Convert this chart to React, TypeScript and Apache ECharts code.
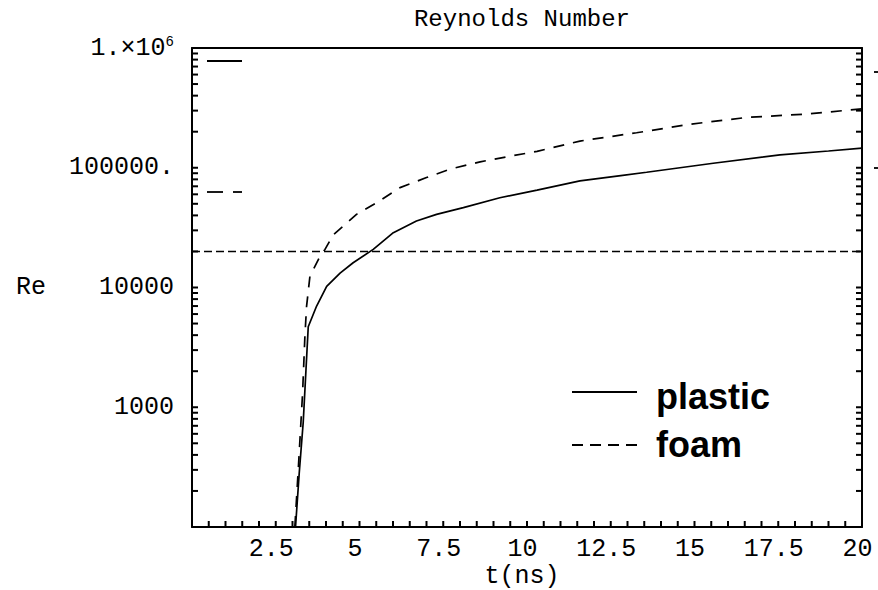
import { useEffect, useRef } from "react";
import * as echarts from "echarts";

// ---- data ----
const plasticT = [3.09, 3.2, 3.32, 3.4, 3.47, 3.72, 4.02, 4.42, 4.81, 5.41, 6.01, 6.7, 7.3, 8.1, 9.19, 10.3, 11.58, 12.8, 13.57, 15.56, 17.55, 19.0, 20];
const plasticRe = [100, 280, 750, 2000, 4700, 7000, 10200, 13200, 16100, 20800, 28700, 35900, 40800, 46400, 56200, 65000, 77600, 86000, 91700, 109000, 128000, 138000, 146000];

const foamT = [3.07, 3.18, 3.3, 3.37, 3.42, 3.52, 3.82, 3.97, 4.22, 4.91, 5.51, 6.21, 7.0, 7.7, 8.6, 9.5, 10.3, 11.58, 13.27, 14.87, 16.56, 18.35, 20];
const foamRe = [100, 330, 1300, 3900, 6950, 12400, 18200, 20800, 27600, 40800, 51000, 68200, 82800, 97300, 112000, 125000, 137000, 167000, 196000, 231000, 263000, 281000, 310000];

const criticalT = [0, 20];
const criticalRe = [20000, 20000];

const xMin = 0;
const xMax = 20;
const xInterval = 2.5;
const xTickStep = 0.5;
const yMin = 100;
const yMax = 1000000;
const yTicks = [
  100, 200, 300, 400, 500, 600, 700, 800, 900,
  1000, 2000, 3000, 4000, 5000, 6000, 7000, 8000, 9000,
  10000, 20000, 30000, 40000, 50000, 60000, 70000, 80000, 90000,
  100000, 200000, 300000, 400000, 500000, 600000, 700000, 800000, 900000, 1000000,
];
const yTickLabels: Record<number, string> = {
  2: "",
  3: "1000",
  4: "10000",
  5: "100000.",
  6: "{a|1.×10}{s|6}",
};

const titleText = "Reynolds Number";
const xName = "t(ns)";
const yName = "Re";
const legendNames = ["plastic", "foam"];

const MONO = "'Liberation Mono', 'Courier New', monospace";
const SANS = "'Liberation Sans', Arial, Helvetica, sans-serif";

export default function App() {
  const ref = useRef<HTMLDivElement | null>(null);

  useEffect(() => {
    if (!ref.current) return;
    const chart = echarts.init(ref.current, undefined, { renderer: "svg" });

    const xTickVals: number[] = [];
    for (let i = 1; i * xTickStep < xMax; i++) xTickVals.push(i * xTickStep);

    const axisLineStyle = { color: "#000", width: 2 };
    const tickStroke = { stroke: "#000", lineWidth: 2 };
    const option: any = {
      animation: false,
      backgroundColor: "#ffffff",
      grid: { left: 192, right: 16, top: 48, bottom: 63 },
      xAxis: [
        {
          type: "value",
          min: xMin,
          max: xMax,
          interval: xInterval,
          axisLine: { show: true, onZero: false, lineStyle: axisLineStyle },
          axisTick: { show: false },
          splitLine: { show: false },
          axisLabel: {
            showMinLabel: false,
            color: "#000",
            fontFamily: MONO,
            fontSize: 25,
            margin: 10,
            padding: [0, 9, 0, 0],
            formatter: (v: number) => String(v),
          },
        },
        {
          type: "value",
          position: "top",
          min: xMin,
          max: xMax,
          interval: xInterval,
          axisLine: { show: true, onZero: false, lineStyle: axisLineStyle },
          axisTick: { show: false },
          splitLine: { show: false },
          axisLabel: { show: false },
        },
      ],
      yAxis: [
        {
          type: "log",
          logBase: 10,
          min: yMin,
          max: yMax,
          position: "left",
          axisLine: { show: true, onZero: false, lineStyle: axisLineStyle },
          axisTick: { show: false },
          splitLine: { show: false },
          axisLabel: {
            color: "#000",
            fontFamily: MONO,
            fontSize: 25,
            margin: 18,
            formatter: (v: number) => {
              const k = Math.round(Math.log10(v));
              return yTickLabels[k] ?? "";
            },
            rich: {
              a: { fontFamily: MONO, fontSize: 25, color: "#000" },
              s: { fontFamily: MONO, fontSize: 14, color: "#000", verticalAlign: "top", padding: [0, 0, 12, 0] },
            },
          },
        },
        {
          type: "log",
          logBase: 10,
          min: yMin,
          max: yMax,
          position: "right",
          axisLine: { show: true, onZero: false, lineStyle: axisLineStyle },
          axisTick: { show: false },
          splitLine: { show: false },
          axisLabel: { show: false },
        },
      ],
      series: [
        {
          name: "yTicks",
          type: "custom",
          clip: false,
          z: 10,
          data: yTicks.map((v) => [xMin, v]),
          renderItem: (params: any, api: any) => {
            const v = api.value(1);
            const pl = api.coord([xMin, v]);
            const pr = api.coord([xMax, v]);
            return {
              type: "group",
              children: [
                { type: "line", shape: { x1: pl[0], y1: pl[1], x2: pl[0] + 6, y2: pl[1] }, style: tickStroke },
                { type: "line", shape: { x1: pr[0] - 6, y1: pr[1], x2: pr[0], y2: pr[1] }, style: tickStroke },
              ],
            };
          },
        },
        {
          name: "xTicks",
          type: "custom",
          clip: false,
          z: 10,
          data: xTickVals.map((t) => [t, yMin]),
          renderItem: (params: any, api: any) => {
            const p = api.coord([api.value(0), yMin]);
            return { type: "line", shape: { x1: p[0], y1: p[1], x2: p[0], y2: p[1] - 6 }, style: tickStroke };
          },
        },
        {
          name: "critical",
          type: "line",
          data: criticalT.map((t, i) => [t, criticalRe[i]]),
          symbol: "none",
          lineStyle: { color: "#000", width: 1.5, type: [8, 4] },
        },
        {
          name: legendNames[0],
          type: "line",
          data: plasticT.map((t, i) => [t, plasticRe[i]]),
          symbol: "none",
          lineStyle: { color: "#000", width: 1.7 },
        },
        {
          name: legendNames[1],
          type: "line",
          data: foamT.map((t, i) => [t, foamRe[i]]),
          symbol: "none",
          lineStyle: { color: "#000", width: 1.7, type: [11, 9] },
        },
      ],
      graphic: [
        {
          type: "text",
          style: {
            x: 522, y: 19, text: titleText, fill: "#000",
            font: `24px ${MONO}`, align: "center", verticalAlign: "middle",
          },
        },
        {
          type: "text",
          style: { x: 522, y: 576, text: xName, fill: "#000", font: `25px ${MONO}`, align: "center", verticalAlign: "middle" },
        },
        {
          type: "text",
          style: { x: 16, y: 287, text: yName, fill: "#000", font: `25px ${MONO}`, align: "left", verticalAlign: "middle" },
        },
        // legend
        { type: "line", shape: { x1: 572, y1: 392, x2: 637, y2: 392 }, style: { stroke: "#000", lineWidth: 1.8 } },
        { type: "line", shape: { x1: 572, y1: 445, x2: 637, y2: 445 }, style: { stroke: "#000", lineWidth: 1.8, lineDash: [11, 7] } },
        {
          type: "text",
          style: { x: 656, y: 396, text: legendNames[0], fill: "#000", font: `bold 36px ${SANS}`, align: "left", verticalAlign: "middle" },
        },
        {
          type: "text",
          style: { x: 656, y: 444, text: legendNames[1], fill: "#000", font: `bold 36px ${SANS}`, align: "left", verticalAlign: "middle" },
        },
        // small stray marks seen in the reference
        { type: "line", shape: { x1: 207, y1: 61, x2: 242, y2: 61 }, style: { stroke: "#000", lineWidth: 1.8 } },
        { type: "line", shape: { x1: 207, y1: 192, x2: 223, y2: 192 }, style: { stroke: "#000", lineWidth: 1.8 } },
        { type: "line", shape: { x1: 233, y1: 192, x2: 242, y2: 192 }, style: { stroke: "#000", lineWidth: 1.8 } },
        { type: "line", shape: { x1: 874, y1: 72, x2: 879, y2: 72 }, style: { stroke: "#000", lineWidth: 1.8 } },
        { type: "line", shape: { x1: 874, y1: 168, x2: 879, y2: 168 }, style: { stroke: "#000", lineWidth: 1.8 } },
      ],
    };

    chart.setOption(option);
    return () => {
      chart.dispose();
    };
  }, []);

  return (
    <div
      ref={ref}
      style={{ position: "fixed", left: 0, top: 0, width: 878, height: 590, background: "#fff" }}
    />
  );
}
